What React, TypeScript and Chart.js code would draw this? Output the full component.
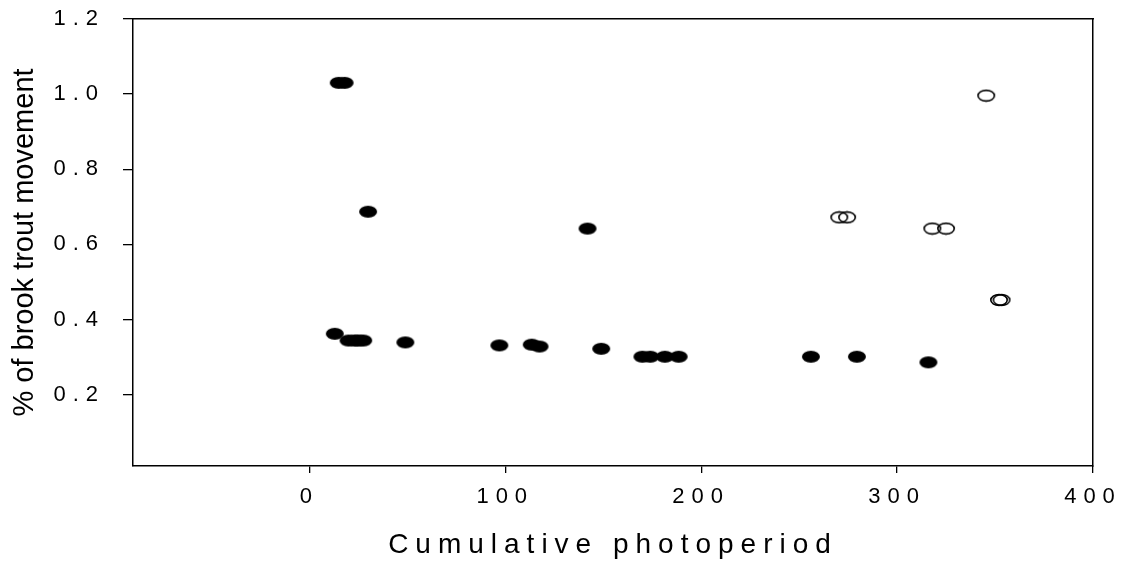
import React, { useEffect, useRef } from "react";
import { Chart, registerables } from "chart.js";

Chart.register(...registerables);

// Filled markers (first group)
const filledX = [15, 18, 30, 13, 20, 23, 25, 27.5, 49, 97, 113.5, 117.5, 142, 149, 170, 174, 181.5, 188.5, 256, 279.5, 316];
const filledY = [1.03, 1.03, 0.687, 0.362, 0.344, 0.344, 0.344, 0.344, 0.339, 0.331, 0.333, 0.328, 0.642, 0.322, 0.301, 0.301, 0.301, 0.301, 0.301, 0.301, 0.286];

// Open markers (second group)
const openX = [270.5, 274.5, 318, 325, 345.5, 352, 353.3];
const openY = [0.672, 0.672, 0.642, 0.642, 0.996, 0.452, 0.452];

const xTicks = [0, 100, 200, 300, 400];
const yTicks = [0.2, 0.4, 0.6, 0.8, 1.0, 1.2];

const xTitle = "Cumulative photoperiod";
const yTitle = "% of brook trout movement";

const FONT = "'Liberation Sans', Arial, sans-serif";

function makeEllipse(filled: boolean): HTMLCanvasElement {
  const c = document.createElement("canvas");
  c.width = 20;
  c.height = 14;
  const g = c.getContext("2d")!;
  g.beginPath();
  if (filled) {
    g.ellipse(10, 7, 9, 6, 0, 0, Math.PI * 2);
    g.fillStyle = "#000";
    g.fill();
  } else {
    g.ellipse(10, 7, 8.2, 5.4, 0, 0, Math.PI * 2);
    g.lineWidth = 1.6;
    g.strokeStyle = "#000";
    g.stroke();
  }
  return c;
}

const spacingPlugin = {
  id: "letterSpacingPlugin",
  beforeDraw(chart: any) {
    const y = chart.scales.y;
    if (y && !y.__patched) {
      const orig = y.drawTitle.bind(y);
      y.drawTitle = () => {
        const c = chart.ctx as any;
        const prev = c.letterSpacing;
        c.letterSpacing = "0px";
        orig();
        c.letterSpacing = prev;
      };
      y.__patched = true;
    }
    (chart.ctx as any).letterSpacing = "7px";
  },
  afterDraw(chart: any) {
    (chart.ctx as any).letterSpacing = "0px";
  },
};

const noPad = (s: any) => {
  s.paddingTop = 0;
  s.paddingBottom = 0;
  s.paddingLeft = 0;
  s.paddingRight = 0;
};

export default function App() {
  const ref = useRef<HTMLCanvasElement | null>(null);

  useEffect(() => {
    if (!ref.current) return;
    const filledStyle = makeEllipse(true);
    const openStyle = makeEllipse(false);
    const chart = new Chart(ref.current, {
      type: "scatter",
      data: {
        datasets: [
          {
            label: "filled",
            data: filledX.map((x, i) => ({ x, y: filledY[i] })),
            pointStyle: filledStyle as any,
            xAxisID: "x",
            yAxisID: "y",
          },
          {
            label: "open",
            data: openX.map((x, i) => ({ x, y: openY[i] })),
            pointStyle: openStyle as any,
            xAxisID: "x",
            yAxisID: "y",
          },
        ],
      },
      options: {
        responsive: false,
        animation: false,
        events: [],
        layout: { padding: { top: 19, right: 35, left: 0, bottom: 0 } },
        plugins: { legend: { display: false }, tooltip: { enabled: false } },
        scales: {
          x: {
            type: "linear",
            position: "bottom",
            min: -90,
            max: 400,
            afterBuildTicks: (s: any) => {
              s.ticks = xTicks.map((v) => ({ value: v }));
            },
            afterFit: (s: any) => {
              s.height = 99;
              noPad(s);
            },
            grid: { display: true, drawOnChartArea: false, drawTicks: true, tickLength: 7, color: "#000", lineWidth: 1.3 },
            border: { display: true, color: "#000", width: 1.5 },
            ticks: {
              color: "#000",
              font: { family: FONT, size: 22 },
              padding: 11,
              maxRotation: 0,
              autoSkip: false,
              callback: (v: any) => String(v),
            },
            title: {
              display: true,
              text: xTitle,
              color: "#000",
              font: { family: FONT, size: 28 },
              padding: { top: 0, bottom: 3 },
            },
          },
          y: {
            type: "linear",
            position: "left",
            min: 0.01,
            max: 1.2,
            afterBuildTicks: (s: any) => {
              s.ticks = yTicks.map((v) => ({ value: v }));
            },
            afterFit: (s: any) => {
              s.width = 133;
              noPad(s);
            },
            grid: { display: true, drawOnChartArea: false, drawTicks: true, tickLength: 10, color: "#000", lineWidth: 1.3 },
            border: { display: true, color: "#000", width: 1.5 },
            ticks: {
              color: "#000",
              font: { family: FONT, size: 22 },
              padding: 18,
              autoSkip: false,
              callback: (v: any) => Number(v).toFixed(1),
            },
            title: {
              display: true,
              text: yTitle,
              color: "#000",
              font: { family: FONT, size: 29 },
              padding: { top: 8, bottom: 0 },
            },
          },
          xTop: {
            type: "linear",
            position: "top",
            min: -90,
            max: 400,
            afterFit: (s: any) => {
              s.height = 0;
              noPad(s);
            },
            grid: { display: false },
            ticks: { display: false },
            border: { display: true, color: "#000", width: 1.5 },
          },
          yRight: {
            type: "linear",
            position: "right",
            min: 0.01,
            max: 1.2,
            afterFit: (s: any) => {
              s.width = 0;
              noPad(s);
            },
            grid: { display: false },
            ticks: { display: false },
            border: { display: true, color: "#000", width: 1.5 },
          },
        },
      },
      plugins: [spacingPlugin],
    });
    return () => chart.destroy();
  }, []);

  return (
    <div style={{ position: "absolute", left: 0, top: 0, width: 1128, height: 565, background: "#fff" }}>
      <canvas ref={ref} width={1128} height={565} style={{ display: "block" }} />
    </div>
  );
}
